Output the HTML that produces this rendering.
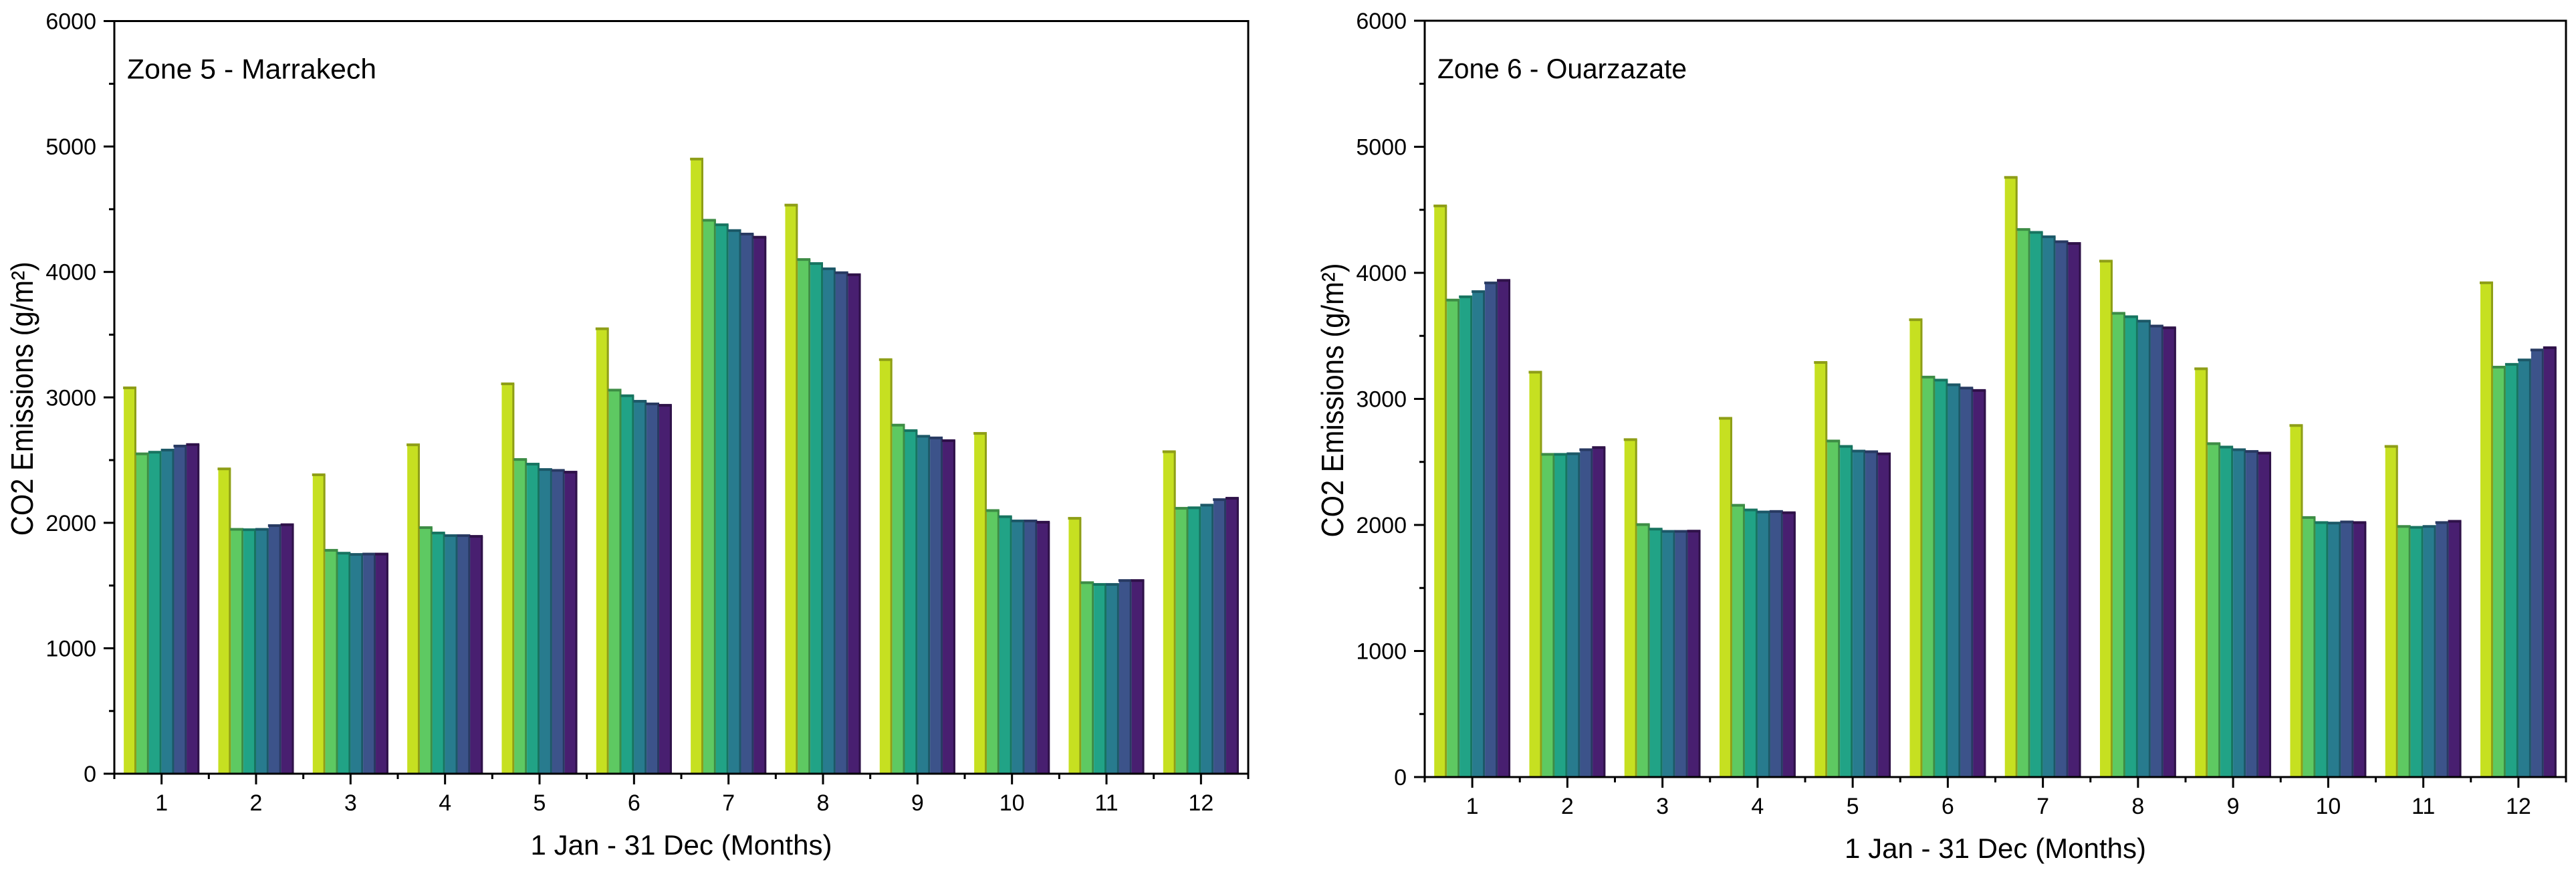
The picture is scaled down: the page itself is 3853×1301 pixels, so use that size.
<!DOCTYPE html>
<html><head><meta charset="utf-8"><style>
html,body{margin:0;padding:0;background:#fff}
svg{display:block}
text{font-family:"Liberation Sans",Arial,sans-serif;fill:#000}
</style></head><body>
<svg id="chart" width="3853" height="1301" viewBox="0 0 3853 1301" xmlns="http://www.w3.org/2000/svg"></svg>
<script>
const months = ["1","2","3","4","5","6","7","8","9","10","11","12"];
const yTicks = [0,1000,2000,3000,4000,5000,6000];
const seriesColors = ["#c6e021","#5ec962","#21a386","#287b8e","#3c538a","#481f70"];
const edgeColors = ["#8e9e17","#3d8c45","#177460","#1c5867","#283a62","#2f1249"];
const zone5Title = "Zone 5 - Marrakech";
const zone6Title = "Zone 6 - Ouarzazate";
// Zone 5 values [month][series]
const zone5S1 = [3076,2430,2383,2622,3108,3547,4900,4533,3301,2713,2036,2567];
const zone5S2 = [2550,1948,1781,1962,2505,3058,4412,4099,2779,2098,1523,2116];
const zone5S3 = [2563,1945,1758,1919,2468,3013,4376,4067,2735,2049,1509,2120];
const zone5S4 = [2580,1948,1748,1898,2425,2969,4330,4025,2690,2015,1509,2141];
const zone5S5 = [2612,1978,1751,1898,2418,2948,4302,3994,2677,2015,1540,2185];
const zone5S6 = [2624,1985,1751,1892,2404,2937,4277,3978,2655,2005,1540,2196];
// Zone 6 values
const zone6S1 = [4531,3212,2677,2846,3289,3628,4757,4093,3239,2789,2623,3921];
const zone6S2 = [3784,2560,2003,2156,2666,3173,4344,3679,2645,2059,1988,3252];
const zone6S3 = [3810,2560,1967,2119,2623,3149,4321,3652,2618,2019,1981,3274];
const zone6S4 = [3851,2565,1949,2103,2586,3112,4286,3617,2597,2015,1988,3309];
const zone6S5 = [3920,2597,1949,2107,2581,3086,4247,3578,2583,2024,2019,3388];
const zone6S6 = [3940,2614,1951,2097,2564,3067,4233,3564,2570,2019,2029,3406];

const NS="http://www.w3.org/2000/svg";
const svg=document.getElementById('chart');
function mk(tag,attrs,parent){const e=document.createElementNS(NS,tag);for(const k in attrs)e.setAttribute(k,attrs[k]);(parent||svg).appendChild(e);return e;}

function drawPanel(id,L,R,T,B,title,series){
  const g=mk('g',{});
  
  
  const band=(R-L)/months.length;
  const yScale=v=>B-(v/6000)*(B-T);
  const xBand=i=>L+i*band;
  const bw=band*0.8/6;
  // bars
  for(let s=0;s<series.length;s++){
    for(let i=0;i<months.length;i++){
      const v=series[s][i];
      const x=xBand(i)+band*0.1+s*bw;
      const y=yScale(v);
      const bg=mk('g',{},g);
      
      
      mk('rect',{x:x,y:y,width:bw,height:B-y,fill:seriesColors[s]},bg);
      mk('rect',{x:x+bw-3,y:y,width:3,height:B-y,fill:edgeColors[s]},bg);
      mk('rect',{x:x-1,y:y-2,width:bw+1,height:4,fill:edgeColors[s]},bg);
    }
  }
  // frame
  const fr=mk('rect',{x:L,y:T,width:R-L,height:B-T,fill:'none',stroke:'#000','stroke-width':3},g);
  
  
  // y ticks
  for(let k=0;k<yTicks.length;k++){
    const y=yScale(yTicks[k]);
    mk('line',{x1:L-16,x2:L,y1:y,y2:y,stroke:'#000','stroke-width':3},g);
    if(k<yTicks.length-1){const ym=yScale(yTicks[k]+500);mk('line',{x1:L-8,x2:L,y1:ym,y2:ym,stroke:'#000','stroke-width':3},g);}
    const t=mk('text',{x:L-27,y:y+12,'font-size':34,'text-anchor':'end'},g);
    
    
    t.textContent=yTicks[k];
  }
  // x ticks
  for(let i=0;i<months.length;i++){
    const xc=xBand(i)+band/2;
    mk('line',{x1:xc,x2:xc,y1:B,y2:B+16,stroke:'#000','stroke-width':3},g);
    mk('line',{x1:xBand(i),x2:xBand(i),y1:B,y2:B+8,stroke:'#000','stroke-width':3},g);
    const t=mk('text',{x:xc,y:B+55,'font-size':34,'text-anchor':'middle'},g);
    
    
    t.textContent=months[i];
  }
  mk('line',{x1:R,x2:R,y1:B,y2:B+8,stroke:'#000','stroke-width':3},g);
  const tt=mk('text',{x:L+19,y:T+86,'font-size':42,textLength:373,lengthAdjust:'spacingAndGlyphs'},g);
  
  
  tt.textContent=title;
  const xt=mk('text',{x:(L+R)/2,y:B+121,'font-size':42,'text-anchor':'middle',textLength:451,lengthAdjust:'spacingAndGlyphs'},g);
  
  
  xt.textContent="1 Jan - 31 Dec (Months)";
  const yc=(T+B)/2+2, xc=L-138;
  const yt=mk('text',{x:0,y:0,'font-size':46,'text-anchor':'middle',textLength:410,lengthAdjust:'spacingAndGlyphs',transform:'translate('+(xc+16)+','+yc+') rotate(-90)'},g);
  
  
  yt.textContent="CO2 Emissions (g/m²)";
}
drawPanel('zone5',171,1867,31.5,1157,zone5Title,[zone5S1,zone5S2,zone5S3,zone5S4,zone5S5,zone5S6]);
drawPanel('zone6',2131,3838,31,1162,zone6Title,[zone6S1,zone6S2,zone6S3,zone6S4,zone6S5,zone6S6]);
</script>
</body></html>
